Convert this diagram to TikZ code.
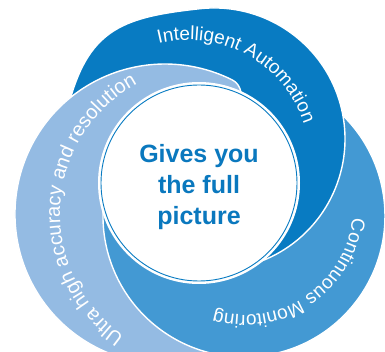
\documentclass[tikz,border=0pt]{standalone}
\usepackage{fontspec}
\newfontfamily\labfont{Liberation Sans}
\usetikzlibrary{decorations.text}
\definecolor{darkB}{RGB}{8,123,194}
\definecolor{medB}{RGB}{67,153,211}
\definecolor{lightB}{RGB}{148,187,227}
\definecolor{hubtext}{RGB}{10,120,190}
\newcommand{\lightcrescent}{%
  \path[crescent, fill=lightB] (199,-183) -- (240,-343.9) arc[start angle=-60, end angle=-296.6, radius=150]
    .. controls (237,-82) and (240,-87) .. (241,-92.2) -- cycle;}
\begin{document}
\begin{tikzpicture}[x=1pt,y=1pt,
  crescent/.style={draw=white, line width=1.4pt, line join=round},
  arctext/.style={decorate, decoration={text along path, text align=center, text color=white}}]
\useasboundingbox (0,0) rectangle (385,-352);
% light crescent (bottom layer)
\lightcrescent
% medium crescent
\path[crescent, fill=medB] (199,-183) -- (334.6,-108) arc[start angle=50, end angle=-182, radius=141] -- cycle;
% dark crescent
\path[crescent, fill=darkB] (199,-183) -- (66,-120) -- (70,-100) .. controls (90,-28) and (125.4,-16.8) .. (200.1,-8.7)
  arc[start angle=96.1, end angle=-69, radius=131] -- cycle;
% light crescent tip over the dark one
\begin{scope}
  \clip (0,0) rectangle (260,-150);
  \lightcrescent
\end{scope}
% hub
\node[circle, fill=white, minimum size=202pt, inner sep=0pt] (hub) at (199,-183) {};
\draw[darkB, line width=0.9pt] (hub.center) circle[radius=98];
\node[align=center, text=hubtext, font=\labfont\bfseries\fontsize{25}{31}\selectfont] (hubtxt) at (199,-187.5) {Gives you\\the full\\picture};
% arc labels
\path[arctext, decoration={text={|\labfont\fontsize{19}{19}\selectfont|Intelligent Automation}}] (188,-162) ++(121:122) arc[start angle=121, end angle=1, radius=122];
\path[arctext, decoration={text={|\labfont\fontsize{19}{19}\selectfont|Continuous Monitoring}}] (245,-207) ++(4:108) arc[start angle=4, end angle=-116, radius=108];
\path[arctext, decoration={text={|\labfont\fontsize{20}{20}\selectfont|Ultra high accuracy and resolution}}] (208,-214) ++(247:148) arc[start angle=247, end angle=107, radius=148];
\end{tikzpicture}
\end{document}
